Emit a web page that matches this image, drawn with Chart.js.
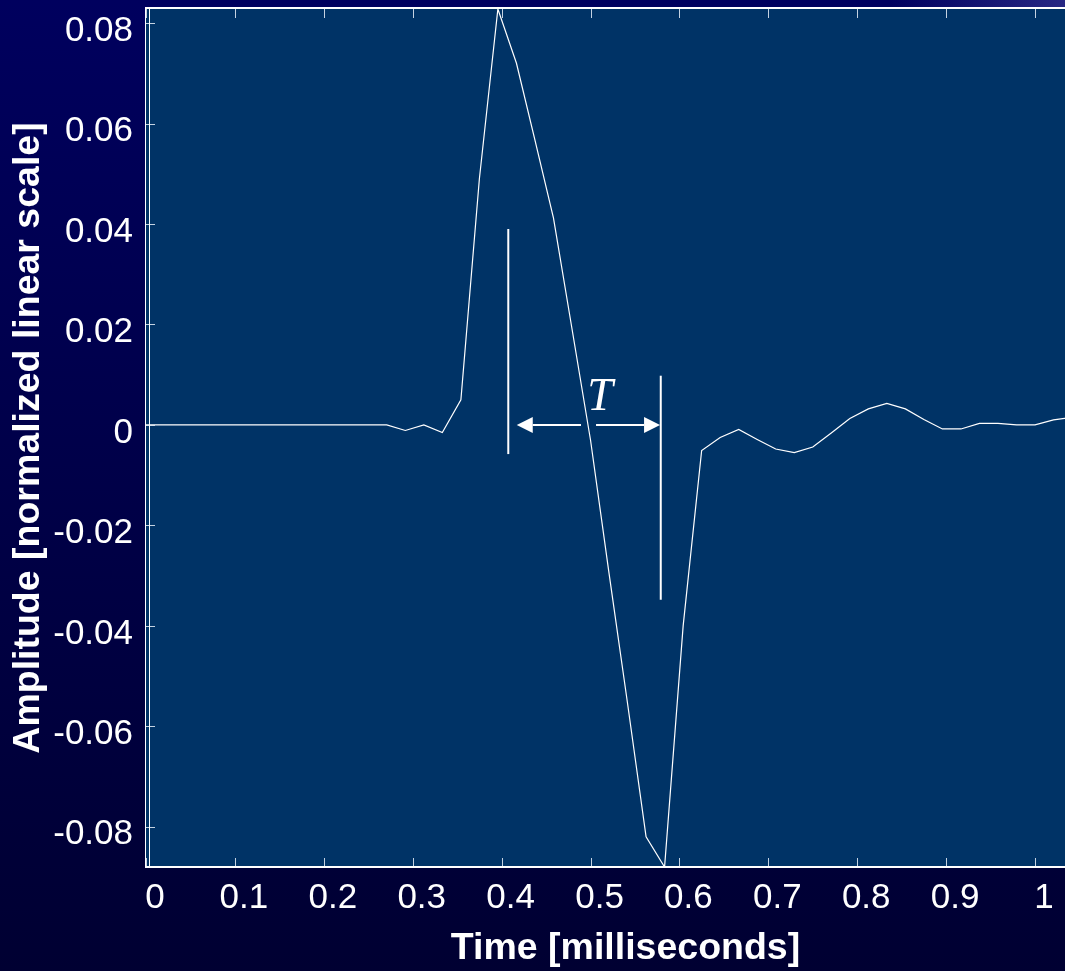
<!DOCTYPE html>
<html>
<head>
<meta charset="utf-8">
<script src="https://cdn.jsdelivr.net/npm/chart.js@4.4.1/dist/chart.umd.min.js"></script>
<style>
html, body { margin: 0; padding: 0; overflow: hidden; background: #000040; }
#wrap { width: 1065px; height: 971px; overflow: hidden; }
canvas { display: block; }
</style>
</head>
<body>
<div id="wrap"><canvas id="pulse" width="1110" height="971"></canvas></div>
<script>
// sample times in ms (48 kHz) and pulse amplitude
const timeMs = [0, 0.0208, 0.0417, 0.0625, 0.0833, 0.1042, 0.125, 0.1458, 0.1667, 0.1875,
  0.2083, 0.2292, 0.25, 0.2708, 0.2917, 0.3125, 0.3333, 0.3542, 0.375, 0.3958,
  0.4167, 0.4375, 0.4583, 0.4792, 0.5, 0.5208, 0.5417, 0.5625, 0.5833, 0.6042,
  0.625, 0.6458, 0.6667, 0.6875, 0.7083, 0.7292, 0.75, 0.7708, 0.7917, 0.8125,
  0.8333, 0.8542, 0.875, 0.8958, 0.9167, 0.9375, 0.9583, 0.9792, 1.0, 1.0208, 1.0417];
const amplitude = [0, 0, 0, 0, 0, 0, 0, 0, 0, 0,
  0, 0, 0, 0, -0.0011, 0, -0.0015, 0.005, 0.049, 0.0828,
  0.072, 0.0567, 0.0412, 0.0191, -0.003, -0.0295, -0.0555, -0.082, -0.088, -0.040,
  -0.0051, -0.0025, -0.0009, -0.0029, -0.0048, -0.0055, -0.0044, -0.0016, 0.0013, 0.0032,
  0.0043, 0.0032, 0.0011, -0.0008, -0.0008, 0.0003, 0.0003, 0, 0, 0.001, 0.0015];

const xTicks = [0, 0.1, 0.2, 0.3, 0.4, 0.5, 0.6, 0.7, 0.8, 0.9, 1];
const xTickLabels = ['0', '0.1', '0.2', '0.3', '0.4', '0.5', '0.6', '0.7', '0.8', '0.9', '1'];
const yTicks = [-0.08, -0.06, -0.04, -0.02, 0, 0.02, 0.04, 0.06, 0.08];
const yTickLabels = ['-0.08', '-0.06', '-0.04', '-0.02', '0', '0.02', '0.04', '0.06', '0.08'];

const xMin = 0, xMax = 1.0787;
const yMin = -0.088, yMax = 0.0828;

// "T" marker: two vertical bars, two arrows and the label (data units)
const markerBars = [[0.4075, 0.039, -0.0058], [0.579, 0.0098, -0.0348]];
const markerArrows = [[0.4893, 0.417, 0], [0.5062, 0.5782, 0]];
const markerLabel = [0.5107, 0.0029, 'T'];

const sans = '"Liberation Sans", Arial, sans-serif';

const framePlugin = {
    id: 'frame',
    beforeDraw(chart) {
        const ctx = chart.ctx;
        const a = chart.chartArea;
        const w = chart.width, h = chart.height;
        ctx.save();
        let g = ctx.createLinearGradient(0, 0, 0, h);
        g.addColorStop(0, '#00005e');
        g.addColorStop(1, '#000032');
        ctx.fillStyle = g;
        ctx.fillRect(0, 0, w, h);
        let r = ctx.createRadialGradient(w, 0, 0, w, 0, 220);
        r.addColorStop(0, 'rgba(110,110,200,0.45)');
        r.addColorStop(1, 'rgba(110,110,200,0)');
        ctx.fillStyle = r;
        ctx.fillRect(0, 0, w, h);
        ctx.fillStyle = '#003366';
        ctx.fillRect(a.left, a.top, a.right - a.left, a.bottom - a.top);
        ctx.restore();
    },
    afterDatasetsDraw(chart) {
        const ctx = chart.ctx;
        const a = chart.chartArea;
        const xs = chart.scales.x, ys = chart.scales.y;
        ctx.save();

        // inward tick marks
        ctx.strokeStyle = 'rgba(230,238,248,0.85)';
        ctx.lineWidth = 1;
        ctx.beginPath();
        xTicks.forEach(v => {
            const px = Math.round(xs.getPixelForValue(v)) + 0.5;
            ctx.moveTo(px, a.bottom); ctx.lineTo(px, a.bottom - 9);
            ctx.moveTo(px, a.top); ctx.lineTo(px, a.top + 9);
        });
        yTicks.forEach(v => {
            const py = Math.round(ys.getPixelForValue(v)) + 0.5;
            ctx.moveTo(a.left, py); ctx.lineTo(a.left + 9, py);
            ctx.moveTo(a.right, py); ctx.lineTo(a.right - 9, py);
        });
        ctx.stroke();

        // box
        ctx.fillStyle = '#ffffff';
        ctx.fillRect(a.left - 1, a.top - 2, a.right - a.left + 2, 2);
        ctx.fillRect(a.left - 1, a.bottom - 1, a.right - a.left + 2, 2);
        ctx.fillRect(a.left - 1, a.top - 2, 1, a.bottom - a.top + 3);
        ctx.fillRect(a.left + 3, a.top, 1, a.bottom - a.top);
        ctx.fillRect(a.right, a.top - 2, 1, a.bottom - a.top + 3);

        // T marker
        ctx.strokeStyle = '#ffffff';
        ctx.lineWidth = 2;
        markerBars.forEach(b => {
            const px = xs.getPixelForValue(b[0]);
            ctx.beginPath();
            ctx.moveTo(px, ys.getPixelForValue(b[1]));
            ctx.lineTo(px, ys.getPixelForValue(b[2]));
            ctx.stroke();
        });
        markerArrows.forEach(ar => {
            const x0 = xs.getPixelForValue(ar[0]);
            const x1 = xs.getPixelForValue(ar[1]);
            const py = ys.getPixelForValue(ar[2]);
            const dir = x1 > x0 ? 1 : -1;
            const base = x1 - dir * 16;
            ctx.beginPath();
            ctx.moveTo(x0, py); ctx.lineTo(base, py);
            ctx.stroke();
            ctx.beginPath();
            ctx.moveTo(x1, py);
            ctx.lineTo(base, py - 8);
            ctx.lineTo(base, py + 8);
            ctx.closePath();
            ctx.fill();
        });
        ctx.font = 'italic 46px "Liberation Serif", "Times New Roman", serif';
        ctx.textAlign = 'center';
        ctx.textBaseline = 'alphabetic';
        ctx.fillText(markerLabel[2], xs.getPixelForValue(markerLabel[0]), ys.getPixelForValue(markerLabel[1]));
        ctx.restore();
    }
};

const chart = new Chart(document.getElementById('pulse'), {
    type: 'line',
    data: {
        datasets: [{
            data: timeMs.map((t, i) => ({ x: t, y: amplitude[i] })),
            borderColor: '#ffffff',
            borderWidth: 1.2,
            pointRadius: 0,
            tension: 0,
            fill: false
        }]
    },
    options: {
        responsive: false,
        animation: false,
        devicePixelRatio: 1,
        layout: { padding: { top: 9, right: 5, bottom: 0, left: 0 } },
        plugins: { legend: { display: false }, tooltip: { enabled: false } },
        scales: {
            x: {
                type: 'linear',
                min: xMin,
                max: xMax,
                afterBuildTicks: s => { s.ticks = xTicks.map(v => ({ value: v })); },
                afterFit: s => { s.height = 104; s.paddingLeft = 0; s.paddingRight = 0; },
                grid: { display: false, drawTicks: false },
                border: { display: false },
                ticks: {
                    color: '#ffffff',
                    font: { family: sans, size: 35 },
                    padding: 10,
                    labelOffset: 9,
                    maxRotation: 0,
                    autoSkip: false,
                    callback: (v, i) => xTickLabels[i]
                },
                title: {
                    display: true,
                    text: 'Time [milliseconds]',
                    color: '#ffffff',
                    font: { family: sans, size: 37.5, weight: 'bold' },
                    padding: { top: 0, bottom: 0 }
                }
            },
            y: {
                type: 'linear',
                min: yMin,
                max: yMax,
                afterBuildTicks: s => { s.ticks = yTicks.map(v => ({ value: v })); },
                afterFit: s => { s.width = 146; s.paddingTop = 0; s.paddingBottom = 0; },
                grid: { display: false, drawTicks: false },
                border: { display: false },
                ticks: {
                    color: '#ffffff',
                    font: { family: sans, size: 35 },
                    padding: 13,
                    labelOffset: 8,
                    autoSkip: false,
                    callback: (v, i) => yTickLabels[i]
                },
                title: {
                    display: true,
                    text: 'Amplitude [normalized linear scale]',
                    color: '#ffffff',
                    font: { family: sans, size: 37.5, weight: 'bold' },
                    padding: { top: 6, bottom: 0 }
                }
            }
        }
    },
    plugins: [framePlugin]
});
</script>
</body>
</html>
